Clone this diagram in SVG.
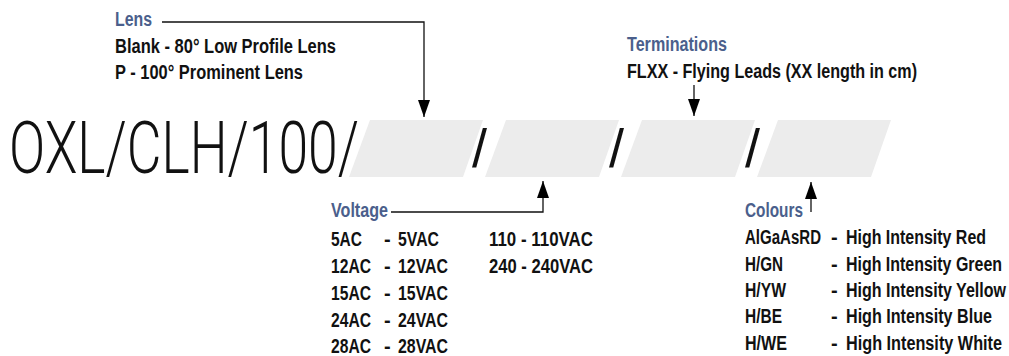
<svg xmlns="http://www.w3.org/2000/svg" width="1009" height="356" viewBox="0 0 1009 356">
<style>
.t{font-family:"Liberation Sans Narrow","Liberation Sans",Arial,sans-serif;font-weight:bold;font-size:20px;fill:#111;}
.h{fill:#4b5f8c;}
.big{font-family:Roboto,"Liberation Sans",Arial,sans-serif;font-weight:300;font-size:72px;fill:#111;}
.sl{font-family:"Liberation Sans",Arial,sans-serif;font-weight:normal;font-size:54px;fill:#111;}
.box{fill:#ececec;}
.c{fill:none;stroke:#111;stroke-width:1.3;}
</style>
<defs>
<marker id="ah" markerUnits="userSpaceOnUse" markerWidth="17" markerHeight="12" refX="17" refY="6" orient="auto">
<path d="M0,0 L17,6 L0,12 z" fill="#000"/>
</marker>
</defs>
<rect width="1009" height="356" fill="#fff"/>
<g id="code">
<text class="big" x="9" y="173" textLength="350" lengthAdjust="spacingAndGlyphs">OXL/CLH/100/</text>
<polygon class="box" points="370,120 483,120 463,177 349,177"/>
<polygon class="box" points="506,120 619,120 599,177 485,177"/>
<polygon class="box" points="642,120 755,120 735,177 621,177"/>
<polygon class="box" points="778,120 891,120 871,177 757,177"/>
<text class="sl" x="472" y="167">/</text>
<text class="sl" x="609" y="167">/</text>
<text class="sl" x="745" y="167">/</text>
</g>
<g id="lens">
<text class="t h" x="115" y="26" textLength="37" lengthAdjust="spacingAndGlyphs">Lens</text>
<text class="t" x="115" y="53" textLength="221" lengthAdjust="spacingAndGlyphs">Blank - 80° Low Profile Lens</text>
<text class="t" x="115" y="79" textLength="188" lengthAdjust="spacingAndGlyphs">P - 100° Prominent Lens</text>
</g>
<g id="terminations">
<text class="t h" x="627" y="51" textLength="100" lengthAdjust="spacingAndGlyphs">Terminations</text>
<text class="t" x="627" y="78" textLength="290" lengthAdjust="spacingAndGlyphs">FLXX - Flying Leads (XX length in cm)</text>
</g>
<g id="voltage">
<text class="t h" x="331" y="217" textLength="57" lengthAdjust="spacingAndGlyphs">Voltage</text>
<text class="t" x="331" y="246" textLength="31" lengthAdjust="spacingAndGlyphs">5AC</text>
<text class="t" x="331" y="273" textLength="40" lengthAdjust="spacingAndGlyphs">12AC</text>
<text class="t" x="331" y="300" textLength="40" lengthAdjust="spacingAndGlyphs">15AC</text>
<text class="t" x="331" y="327" textLength="40" lengthAdjust="spacingAndGlyphs">24AC</text>
<text class="t" x="331" y="353" textLength="40" lengthAdjust="spacingAndGlyphs">28AC</text>
<text class="t" x="384" y="246">-</text>
<text class="t" x="384" y="273">-</text>
<text class="t" x="384" y="300">-</text>
<text class="t" x="384" y="327">-</text>
<text class="t" x="384" y="353">-</text>
<text class="t" x="398" y="246" textLength="41" lengthAdjust="spacingAndGlyphs">5VAC</text>
<text class="t" x="398" y="273" textLength="50" lengthAdjust="spacingAndGlyphs">12VAC</text>
<text class="t" x="398" y="300" textLength="50" lengthAdjust="spacingAndGlyphs">15VAC</text>
<text class="t" x="398" y="327" textLength="50" lengthAdjust="spacingAndGlyphs">24VAC</text>
<text class="t" x="398" y="353" textLength="50" lengthAdjust="spacingAndGlyphs">28VAC</text>
<text class="t" x="489" y="246" textLength="104" lengthAdjust="spacingAndGlyphs">110 - 110VAC</text>
<text class="t" x="489" y="273" textLength="104" lengthAdjust="spacingAndGlyphs">240 - 240VAC</text>
</g>
<g id="colours">
<text class="t h" x="745" y="217" textLength="58" lengthAdjust="spacingAndGlyphs">Colours</text>
<text class="t" x="745" y="244" textLength="76" lengthAdjust="spacingAndGlyphs">AlGaAsRD</text>
<text class="t" x="745" y="271" textLength="38" lengthAdjust="spacingAndGlyphs">H/GN</text>
<text class="t" x="745" y="297" textLength="41" lengthAdjust="spacingAndGlyphs">H/YW</text>
<text class="t" x="745" y="323" textLength="37" lengthAdjust="spacingAndGlyphs">H/BE</text>
<text class="t" x="745" y="350" textLength="42" lengthAdjust="spacingAndGlyphs">H/WE</text>
<text class="t" x="831" y="244">-</text>
<text class="t" x="831" y="271">-</text>
<text class="t" x="831" y="297">-</text>
<text class="t" x="831" y="323">-</text>
<text class="t" x="831" y="350">-</text>
<text class="t" x="846" y="244" textLength="140" lengthAdjust="spacingAndGlyphs">High Intensity Red</text>
<text class="t" x="846" y="271" textLength="156" lengthAdjust="spacingAndGlyphs">High Intensity Green</text>
<text class="t" x="846" y="297" textLength="160" lengthAdjust="spacingAndGlyphs">High Intensity Yellow</text>
<text class="t" x="846" y="323" textLength="146" lengthAdjust="spacingAndGlyphs">High Intensity Blue</text>
<text class="t" x="846" y="350" textLength="156" lengthAdjust="spacingAndGlyphs">High Intensity White</text>
</g>
<g id="connectors">
<polyline class="c" points="162,22 424,22 424,117" marker-end="url(#ah)"/>
<line class="c" x1="694" y1="85" x2="694" y2="116" marker-end="url(#ah)"/>
<polyline class="c" points="391,212 543,212 543,181" marker-end="url(#ah)"/>
<line class="c" x1="811" y1="212" x2="811" y2="182" marker-end="url(#ah)"/>
</g>
</svg>
